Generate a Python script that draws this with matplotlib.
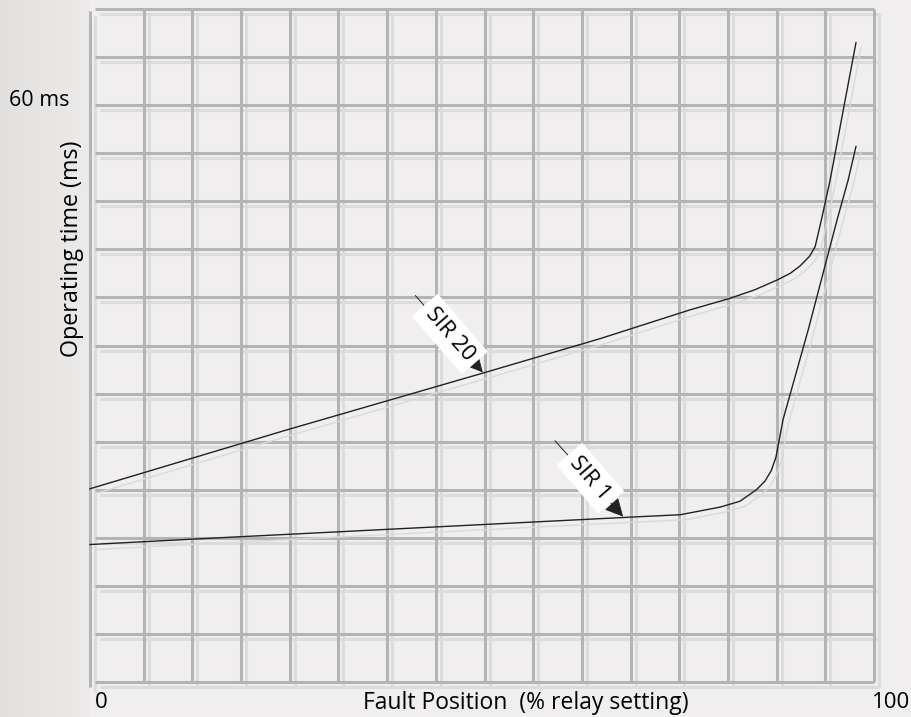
import numpy as np
import matplotlib
matplotlib.use("Agg")
import matplotlib.pyplot as plt
import matplotlib.transforms as mtransforms

# Fault position (% of relay setting) against operating time (ms)
sir20_pos = [0.0, 25.0, 50.4, 65.0, 76.5, 81.6, 84.8, 87.6, 89.3, 90.6, 91.8, 92.5,
             92.9, 93.3, 94.4, 97.7]
sir20_ms = [20.1, 26.2, 32.2, 35.7, 38.7, 39.9, 40.8, 41.8, 42.5, 43.3, 44.3, 45.3,
            46.7, 48.1, 52.2, 66.5]

sir1_pos = [0.0, 14.0, 70.2, 75.3, 80.4, 82.9, 85.0, 86.1, 86.9, 87.5, 88.4, 91.6,
            95.3, 96.7, 97.7]
sir1_ms = [14.3, 14.9, 17.2, 17.4, 18.2, 18.8, 20.0, 20.9, 22.0, 23.4, 27.3, 36.6,
           48.1, 52.2, 55.7]

labels = ["SIR 20", "SIR 1"]
label_tip = [(50.1, 32.2), (68.0, 17.2)]
label_tail = [(41.5, 40.2), (59.3, 25.1)]
label_center = [(45.9, 36.2), (63.8, 21.2)]

W, H = 911, 717
FONT = "Open Sans"
BG = "#f0eeee"
GRID = "#b4b4b4"
GRID_SHADOW = "#dcdcdc"

fig = plt.figure(figsize=(W / 100, H / 100), dpi=100)
fig.patch.set_facecolor(BG)

# soft darker band along the left edge
bg = fig.add_axes([0, 0, 1, 1])
bg.set_xlim(0, W)
bg.set_ylim(H, 0)
bg.axis("off")
t = np.linspace(0, 1, 256)
c0 = np.array([0xe2, 0xe0, 0xdf]) / 255
c1 = np.array([0xec, 0xeb, 0xea]) / 255
grad = c0 + (c1 - c0) * t[:, None]
bg.imshow(grad[None, :, :], extent=[0, 90, H, 0], aspect="auto", zorder=0)

ax = fig.add_axes([0, 0, 1, 1])
ax.patch.set_alpha(0)
ax.set_xlim(-11.48, 104.72)
ax.set_ylim(-3.64, 70.94)
ax.axis("off")

shadow = mtransforms.offset_copy(ax.transData, fig=fig, x=5, y=-5, units="dots")

# grid: 16 columns x 14 rows of 5 ms
x0 = 0.64
xs = [x0 + k * (100 - x0) / 16 for k in range(1, 17)]
ys = list(range(0, 71, 5))
for tr, col, z in ((shadow, GRID_SHADOW, 1), (ax.transData, GRID, 2)):
    for y in ys:
        ax.plot([x0, 100], [y, y], color=col, lw=2.2, transform=tr, zorder=z,
                solid_capstyle="butt")
    for x in xs:
        ax.plot([x, x], [0, 70], color=col, lw=2.2, transform=tr, zorder=z,
                solid_capstyle="butt")
    ax.plot([0, 0], [-0.5, 69.8], color=col, lw=2.2, transform=tr, zorder=z,
            solid_capstyle="butt")

# operating-time curves with their drop shadows
for xv, yv in ((sir20_pos, sir20_ms), (sir1_pos, sir1_ms)):
    ax.plot(xv, yv, color="#dadada", lw=1.0, transform=shadow, zorder=3,
            solid_joinstyle="round")
    ax.plot(xv, yv, color="#222222", lw=1.0, zorder=4, solid_joinstyle="round")

# curve callouts
for lab, tip, tail, ctr in zip(labels, label_tip, label_tail, label_center):
    ax.annotate("", xy=tip, xytext=tail,
                arrowprops=dict(arrowstyle="-|>,head_length=0.75,head_width=0.38",
                                color="#222222", lw=0.7, shrinkA=0, shrinkB=0,
                                mutation_scale=15),
                zorder=5)
    ax.text(ctr[0], ctr[1], lab, rotation=-49, rotation_mode="anchor",
            ha="center", va="center", fontsize=16, family=FONT, color="black",
            bbox=dict(boxstyle="square,pad=0.3", fc="white", ec="none"),
            zorder=6)

def px_text(x, y, s, size=15.5, **kw):
    fig.text(x / W, 1 - y / H, s, ha="center", va="center", family=FONT,
             fontsize=size, color="black", **kw)

px_text(39, 100, "60 ms")
px_text(72, 249, "Operating time (ms)", size=16.8, rotation=90)
px_text(101, 703, "0", size=16)
px_text(526, 703, "Fault Position  (% relay setting)", size=16.5)
px_text(891, 703, "100", size=16)

fig.savefig("out.png", dpi=100, facecolor=fig.get_facecolor())
